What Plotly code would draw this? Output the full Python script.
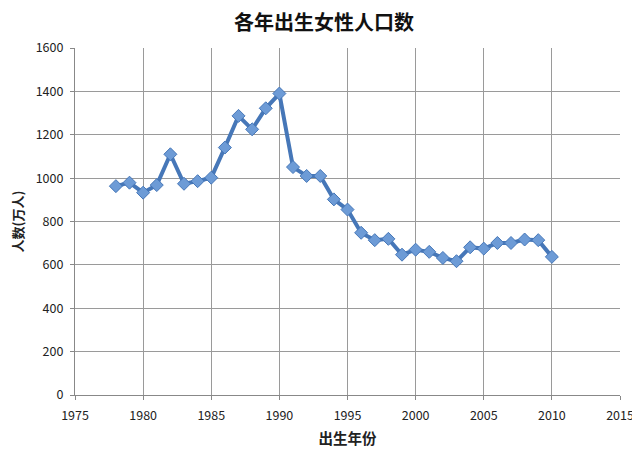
import plotly.graph_objects as go

years = list(range(1978, 2011))
female_births = [963, 979, 933, 968, 1110, 974, 986, 1002, 1141, 1287,
                 1225, 1322, 1390, 1051, 1010, 1010, 902, 855, 748, 714,
                 720, 647, 670, 660, 632, 617, 681, 675, 701, 701,
                 717, 714, 637]

x_ticks = [1975, 1980, 1985, 1990, 1995, 2000, 2005, 2010, 2015]
y_ticks = [0, 200, 400, 600, 800, 1000, 1200, 1400, 1600]

font = "Noto Sans CJK SC, Liberation Sans, sans-serif"
grid = "#9a9a9a"

fig = go.Figure()
fig.add_trace(go.Scatter(
    x=years, y=female_births, mode="lines+markers",
    line=dict(color="#4677b8", width=4),
    marker=dict(symbol="diamond", size=10, color="#6d9bd6",
                line=dict(color="#4677b8", width=1)),
    showlegend=False,
))

# page body has an 8px margin, so the figure is a bit smaller than the window
fig.update_layout(
    width=632, height=444,
    margin=dict(l=67, r=20, t=40, b=57),
    paper_bgcolor="white", plot_bgcolor="white",
    font=dict(family=font, size=12.5, color="#222"),
    title=dict(text="各年出生女性人口数", x=0.5, xanchor="center",
               yref="container", y=0.966, yanchor="middle",
               font=dict(size=20, color="#111", weight="bold")),
)
fig.update_xaxes(
    range=[1975, 2015], tickvals=x_ticks, showgrid=True, gridcolor=grid,
    gridwidth=1.2, showline=True, linecolor="#888", linewidth=1.2,
    ticks="outside", ticklen=4, tickcolor="#888", zeroline=False,
    ticklabelstandoff=5, automargin=False,
    title=dict(text="出生年份", font=dict(size=14.5, weight="bold"), standoff=10),
)
fig.update_yaxes(
    range=[0, 1600], tickvals=y_ticks, showgrid=True, gridcolor=grid,
    gridwidth=1.2, showline=True, linecolor="#888", linewidth=1.2,
    ticks="outside", ticklen=4, tickcolor="#888", zeroline=False,
    ticklabelstandoff=4, automargin=False,
    title=dict(text="人数(万人)", font=dict(size=13, weight="bold"), standoff=10),
)

fig.write_html("out.html")
